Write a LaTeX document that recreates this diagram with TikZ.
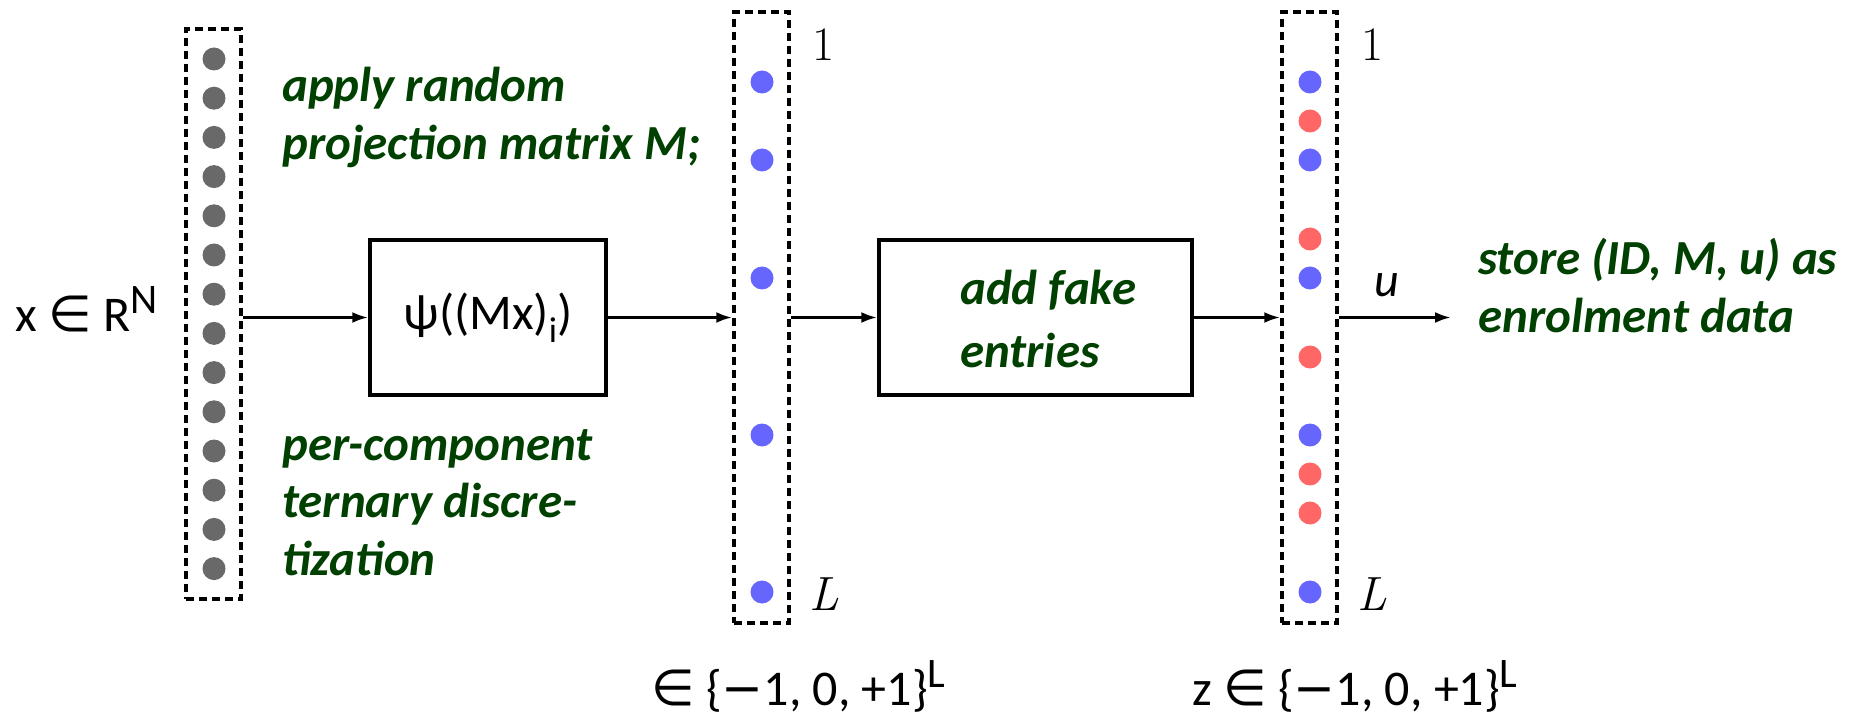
\documentclass[tikz,border=0pt]{standalone}
\usepackage{fontspec}
\setmainfont{Carlito}
\newfontfamily\dejavu{DejaVu Sans}
\newfontfamily\lmr{Latin Modern Roman}
\usetikzlibrary{arrows.meta}
\definecolor{dgreen}{RGB}{0,64,0}
\definecolor{dotgray}{RGB}{105,105,105}
\definecolor{dotblue}{RGB}{102,102,255}
\definecolor{dotred}{RGB}{255,102,102}
\newcommand{\elem}{{\dejavu ∈}}
\newcommand{\mns}{{\dejavu −}}
\newcommand{\supr}[1]{\raisebox{18pt}{\fontsize{42}{42}\selectfont #1}}
\begin{document}
\begin{tikzpicture}[x=1pt,y=-1pt,
  colbox/.style={draw,line width=3.5pt,dash pattern=on 8pt off 5pt,inner sep=0pt,minimum width=55pt},
  procbox/.style={draw,line width=3.5pt,inner sep=0pt},
  dotnode/.style={circle,inner sep=0pt,minimum size=23pt},
  gdot/.style={dotnode,fill=dotgray},
  bdot/.style={dotnode,fill=dotblue},
  rdot/.style={dotnode,fill=dotred},
  greentext/.style={text=dgreen,font=\fontsize{49}{58}\selectfont\bfseries\itshape,inner sep=0pt,anchor=base west},
  blacktext/.style={font=\fontsize{50}{58}\selectfont,inner sep=0pt},
  idx/.style={font=\fontsize{48}{48}\selectfont\lmr,inner sep=0pt},
  conn/.style={line width=3pt,-{Latex[length=16pt,width=11pt]}}]
\useasboundingbox (0,0) rectangle (1865,719);
% columns
\node[colbox,minimum height=570pt] (colA) at (213.5,314) {};
\node[colbox,minimum height=611pt] (colB) at (761.5,317.5) {};
\node[colbox,minimum height=611pt] (colC) at (1309.5,317.5) {};
% dots
\foreach \k in {0,...,13}{
  \node[gdot] (a\k) at (214,{59+\k*39.2}) {};
}
\foreach \y [count=\i] in {82,160,278,435,592}{
  \node[bdot] (b\i) at (762,\y) {};
}
\foreach \y/\s [count=\i] in {82/bdot,121/rdot,160/bdot,239/rdot,278/bdot,357/rdot,435/bdot,474/rdot,513/rdot,592/bdot}{
  \node[\s] (c\i) at (1310,\y) {};
}
% boxes
\node[procbox,minimum width=236pt,minimum height=155pt,blacktext] (psi) at (488,317.5)
  {ψ((Mx)\raisebox{-13pt}{\fontsize{36}{36}\selectfont i})};
\node[procbox,minimum width=313pt,minimum height=155pt] (fake) at (1035.5,317.5) {};
\node[greentext] (f1) at (960,305) {add fake};
\node[greentext] (f2) at (960,367) {entries};
% connectors
\coordinate (out) at (1451,317.5);
\draw[conn] (colA.east |- psi.west) -- (psi.west);
\draw[conn] (psi.east) -- (colB.west |- psi.east);
\draw[conn] (colB.east |- fake.west) -- (fake.west);
\draw[conn] (fake.east) -- (colC.west |- fake.east);
\draw[conn] (colC.east |- out) -- (out);
\node[font=\fontsize{48}{48}\selectfont\itshape,inner sep=0pt,anchor=base] (ulab) at (1387,297) {u};
% texts
\node[blacktext,anchor=base west] (xin) at (15,331) {x \elem{} R\supr{N}};
\node[greentext] (t1a) at (282,102) {apply random};
\node[greentext] (t1b) at (282,160) {projection matrix M;};
\node[greentext] (t2a) at (282,460) {per-component};
\node[greentext] (t2b) at (282,517) {ternary discre-};
\node[greentext] (t2c) at (282,575) {tization};
\node[greentext] (t3a) at (1478,275) {store (ID, M, u) as};
\node[greentext] (t3b) at (1478,332) {enrolment data};
\node[idx] (one1) at (824,45) {1};
\node[idx] (one2) at (1372,45) {1};
\node[idx] (L1) at (824,594) {\itshape L};
\node[idx] (L2) at (1372,594) {\itshape L};
\node[blacktext,anchor=base west] (set1) at (651,705) {\elem{} \{\mns1, 0, +1\}\supr{L}};
\node[blacktext,anchor=base west] (set2) at (1192,705) {z \elem{} \{\mns1, 0, +1\}\supr{L}};
\end{tikzpicture}
\end{document}
